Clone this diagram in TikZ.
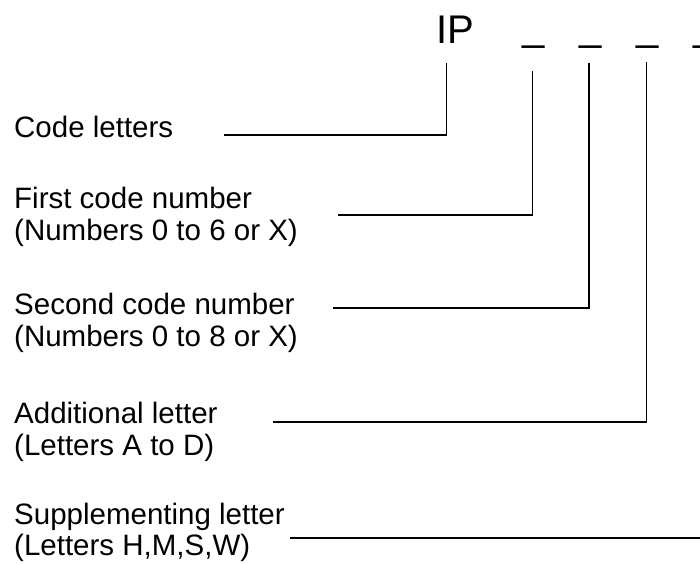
\documentclass[tikz,border=0pt]{standalone}
\usepackage{fontspec}
\setmainfont{Liberation Sans}
\begin{document}
\begin{tikzpicture}[x=1pt,y=-1pt,
  lbl/.style={anchor=base west,inner sep=0pt,font=\fontsize{29.5}{32}\selectfont},
  code/.style={anchor=base west,inner sep=0pt,font=\fontsize{40}{48}\selectfont},
  lead/.style={line width=1.2pt,black}]
\useasboundingbox (0,0) rectangle (700,564);

% code designation: IP followed by four places
\node[code] (ip) at (436,44) {IP};
\node[code] (u1) at (522,41) {\_};
\node[code] (u2) at (579,41) {\_};
\node[code] (u3) at (636,41) {\_};
\node[code] (u4) at (693,41) {\_};

% labels
\node[lbl] (cl)  at (14,138) {Code letters};
\node[lbl] (fc)  at (14,208) {First code number};
\node[lbl] (fc2) at (14,240) {(Numbers 0 to 6 or X)};
\node[lbl] (sc)  at (14,314) {Second code number};
\node[lbl] (sc2) at (14,346) {(Numbers 0 to 8 or X)};
\node[lbl] (al)  at (14,423) {Additional letter};
\node[lbl] (al2) at (14,455) {(Letters A to D)};
\node[lbl] (sl)  at (14,524) {Supplementing letter};
\node[lbl] (sl2) at (14,555) {(Letters H,M,S,W)};

% leader line ends
\coordinate (t1) at (446.7,63);
\coordinate (t2) at (532.7,71);
\coordinate (t3) at (589,63);
\coordinate (t4) at (646.7,62);
\coordinate (e1) at (224,135);
\coordinate (e2) at (338,215);
\coordinate (e3) at (333,308);
\coordinate (e4) at (273,422);
\coordinate (e5) at (290,538);
\coordinate (e6) at (702,538);

% leader lines
\draw[lead] (e1) -| (t1);
\draw[lead] (e2) -| (t2);
\draw[lead] (e3) -| (t3);
\draw[lead] (e4) -| (t4);
\draw[lead] (e5) -- (e6);
\end{tikzpicture}
\end{document}
